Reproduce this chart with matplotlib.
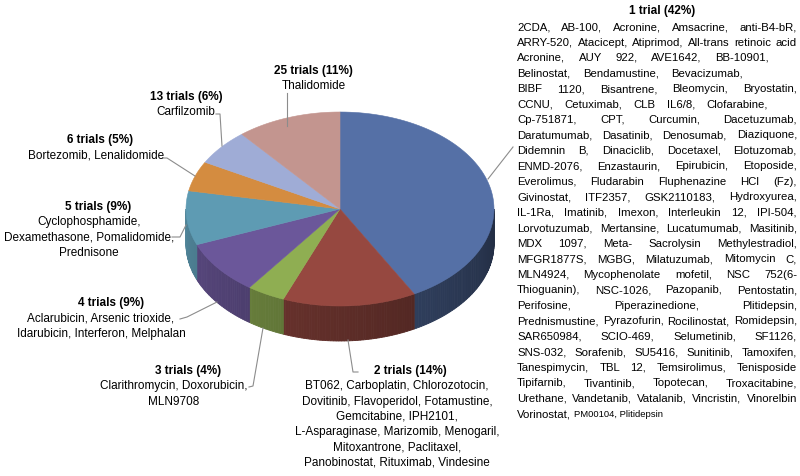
import matplotlib

matplotlib.use("Agg")
import matplotlib.pyplot as plt
import numpy as np
from matplotlib.colors import to_rgb
from matplotlib.font_manager import FontProperties
from matplotlib.patches import Polygon

plt.rcParams["font.family"] = ["Liberation Sans", "DejaVu Sans"]

# data: share of trials by number of trials per drug, clockwise from 12 o'clock
groups = ["1 trial", "2 trials", "3 trials", "4 trials", "5 trials", "6 trials", "13 trials", "25 trials"]
shares = [42, 14, 4, 9, 9, 5, 6, 11]
colors = ["#5570A6", "#964840", "#8FAE52", "#6B579A", "#5E9BB3", "#D48C40", "#9FACD6", "#C3958F"]

drugs_25 = ["Thalidomide"]
drugs_13 = ["Carfilzomib"]
drugs_6 = ["Bortezomib, Lenalidomide"]
drugs_5 = ["Cyclophosphamide,", "Dexamethasone, Pomalidomide,", "Prednisone"]
drugs_4 = ["Aclarubicin, Arsenic trioxide,", "Idarubicin, Interferon, Melphalan"]
drugs_3 = ["Clarithromycin, Doxorubicin,", "MLN9708"]
drugs_2 = [
    "BT062, Carboplatin, Chlorozotocin,",
    "Dovitinib, Flavoperidol, Fotamustine,",
    "Gemcitabine, IPH2101,",
    "L-Asparaginase, Marizomib, Menogaril,",
    "Mitoxantrone, Paclitaxel,",
    "Panobinostat, Rituximab, Vindesine",
]
drugs_1 = [
    "2CDA, AB-100, Acronine, Amsacrine, anti-B4-bR,",
    "ARRY-520, Atacicept, Atiprimod, All-trans retinoic acid",
    "Acronine, AUY 922, AVE1642, BB-10901,",
    "Belinostat, Bendamustine, Bevacizumab,",
    "BIBF 1120, Bisantrene, Bleomycin, Bryostatin,",
    "CCNU, Cetuximab, CLB IL6/8, Clofarabine,",
    "Cp-751871, CPT, Curcumin, Dacetuzumab,",
    "Daratumumab, Dasatinib, Denosumab, Diaziquone,",
    "Didemnin B, Dinaciclib, Docetaxel, Elotuzomab,",
    "ENMD-2076, Enzastaurin, Epirubicin, Etoposide,",
    "Everolimus, Fludarabin Fluphenazine HCl (Fz),",
    "Givinostat, ITF2357, GSK2110183, Hydroxyurea,",
    "IL-1Ra, Imatinib, Imexon, Interleukin 12, IPI-504,",
    "Lorvotuzumab, Mertansine, Lucatumumab, Masitinib,",
    "MDX 1097, Meta- Sacrolysin Methylestradiol,",
    "MFGR1877S, MGBG, Milatuzumab, Mitomycin C,",
    "MLN4924, Mycophenolate mofetil, NSC 752(6-",
    "Thioguanin), NSC-1026, Pazopanib, Pentostatin,",
    "Perifosine, Piperazinedione, Plitidepsin,",
    "Prednismustine, Pyrazofurin, Rocilinostat, Romidepsin,",
    "SAR650984, SCIO-469, Selumetinib, SF1126,",
    "SNS-032, Sorafenib, SU5416, Sunitinib, Tamoxifen,",
    "Tanespimycin, TBL 12, Temsirolimus, Tenisposide",
    "Tipifarnib, Tivantinib, Topotecan, Troxacitabine,",
    "Urethane, Vandetanib, Vatalanib, Vincristin, Vinorelbin",
]
drugs_1_last = ("Vorinostat,", "PM00104, Plitidepsin")

# ---- layout (pixel coordinates, y downward) ----
W, H = 800, 477
cx, cy, rx, ry, depth = 340, 210, 154, 97, 35
FS = 8.5
FS_R = 8.2
LINE = 15.3
GRAY = "#8C8C8C"


def pt(theta, dy=0.0):
    t = np.radians(theta)
    return cx + rx * np.sin(t), cy - ry * np.cos(t) + dy


def shade(c, f):
    return tuple(np.clip(np.array(to_rgb(c)) * f, 0, 1))


fig = plt.figure(figsize=(W / 100, H / 100), dpi=100)
ax = fig.add_axes([0, 0, 1, 1])
ax.set_xlim(0, W)
ax.set_ylim(H, 0)
ax.axis("off")

bounds = np.concatenate([[0], np.cumsum(shares)]) / sum(shares) * 360

# side walls (front half only)
for i, col in enumerate(colors):
    a0, a1 = max(bounds[i], 90), min(bounds[i + 1], 270)
    if a1 <= a0:
        continue
    steps = np.linspace(a0, a1, max(int((a1 - a0) / 1.0), 2) + 1)
    for s0, s1 in zip(steps[:-1], steps[1:]):
        m = 0.5 * (s0 + s1)
        f = 0.40 + 0.45 * (m - 90) / 180
        c = shade(col, f)
        poly = [pt(s0), pt(s1), pt(s1, depth), pt(s0, depth)]
        ax.add_patch(Polygon(poly, closed=True, facecolor=c, edgecolor=c, lw=0.6, zorder=1))

# top faces
for i, col in enumerate(colors):
    arc = np.linspace(bounds[i], bounds[i + 1], 80)
    poly = [(cx, cy)] + [pt(a) for a in arc]
    ax.add_patch(Polygon(poly, closed=True, facecolor=col, edgecolor=col, lw=0.4, zorder=2))

# leader lines
leaders = [
    [(287, 94), (287, 127)],
    [(216, 115), (220, 115), (222, 147)],
    [(163, 159), (167, 159), (195, 177)],
    [(172, 238), (180, 238), (186, 226)],
    [(180, 320), (187, 318), (217, 303)],
    [(249, 388), (253, 387), (263, 329)],
    [(348, 341), (353, 373), (358, 373)],
    [(488, 180), (513, 148)],
]
for seg in leaders:
    xs, ys = zip(*seg)
    ax.plot(xs, ys, color=GRAY, lw=0.8, zorder=3)


def label(hx, hy, head, bx, lines):
    ax.text(hx, hy, head, ha="center", va="center", fontsize=FS, fontweight="bold", zorder=4)
    for k, s in enumerate(lines):
        ax.text(bx, hy + LINE * (k + 1), s, ha="center", va="center", fontsize=FS, zorder=4)


def head(i):
    return f"{groups[i]} ({shares[i]}%)"


label(313, 71, head(7), 314, drugs_25)
label(186, 97, head(6), 186, drugs_13)
label(100, 140, head(5), 96, drugs_6)
label(98, 207, head(4), 89, drugs_5)
label(111, 303, head(3), 101, drugs_4)
label(188, 371, head(2), 174, drugs_3)
label(410, 371, head(1), 397, drugs_2)

# right block: justified list of single-trial drugs
ax.text(662, 11, head(0), ha="center", va="center", fontsize=FS, fontweight="bold", zorder=4)
renderer = fig.canvas.get_renderer()
prop = FontProperties(family=["Liberation Sans"], size=FS_R)


def wwidth(s, p=prop):
    w, h, d = renderer.get_text_width_height_descent(s, p, ismath=False)
    return w


x0, x1 = 517, 797
right_edge = {2: 769, 3: 743, 5: 768}
y0 = 27
for k, line in enumerate(drugs_1):
    y = y0 + k * 15.5
    words = line.split()
    ws = [wwidth(w) for w in words]
    xr = right_edge.get(k, x1)
    gap = (xr - x0 - sum(ws)) / (len(words) - 1)
    x = x0
    for w, wd in zip(words, ws):
        ax.text(x, y, w, ha="left", va="center", fontsize=FS_R, zorder=4)
        x += wd + gap

y = y0 + len(drugs_1) * 15.5
ax.text(x0, y, drugs_1_last[0], ha="left", va="center", fontsize=FS_R, zorder=4)
x = x0 + wwidth(drugs_1_last[0] + " ")
ax.text(x, y + 0.5, drugs_1_last[1], ha="left", va="center", fontsize=6.8, zorder=4)

fig.savefig("out.png", dpi=100, facecolor="white")
